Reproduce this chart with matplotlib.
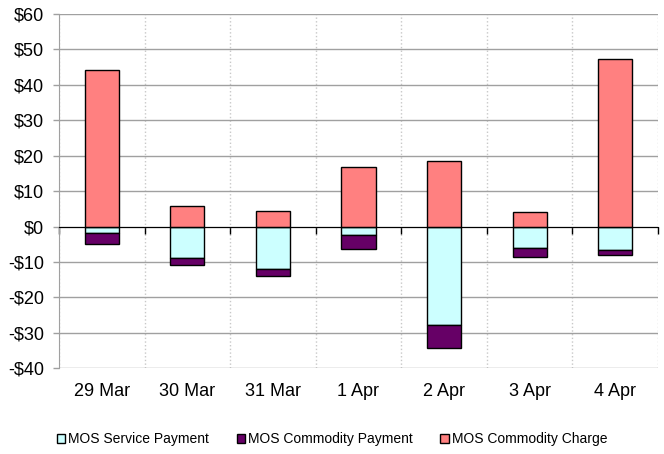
import matplotlib.pyplot as plt
import numpy as np

plt.rcParams['font.family'] = ['Liberation Sans', 'DejaVu Sans']

days = ['29 Mar', '30 Mar', '31 Mar', '1 Apr', '2 Apr', '3 Apr', '4 Apr']
service_payment = [-1.9, -8.8, -11.9, -2.3, -27.8, -6.0, -6.5]
commodity_payment = [-3.1, -2.1, -2.2, -4.0, -6.5, -2.6, -1.6]
commodity_charge = [44.1, 5.8, 4.3, 16.8, 18.6, 4.1, 47.4]

x = np.arange(len(days))
w = 0.4

fig = plt.figure(figsize=(6.64, 4.54), dpi=100)
ax = fig.add_axes([0.0889, 0.189, 0.902, 0.780])

ax.bar(x, service_payment, w, color='#CCFFFF', edgecolor='black', linewidth=1,
       label='MOS Service Payment', zorder=3)
ax.bar(x, commodity_payment, w, bottom=service_payment, color='#660066',
       edgecolor='black', linewidth=1, label='MOS Commodity Payment', zorder=3)
ax.bar(x, commodity_charge, w, color='#FF8080', edgecolor='black', linewidth=1,
       label='MOS Commodity Charge', zorder=3)

ax.set_xlim(-0.5, len(days) - 0.5)
ax.set_ylim(-40, 60)
ax.set_yticks(np.arange(-40, 61, 10))
ax.set_yticklabels([f'${v}' if v >= 0 else f'-${-v}' for v in range(-40, 61, 10)],
                   fontsize=13)
ax.tick_params(axis='y', color='#a0a0a0', length=4, width=1, pad=7)
ax.yaxis.grid(True, color='#a0a0a0', linewidth=1)

# category axis at zero with boundary ticks
ax.spines['bottom'].set_position(('data', 0))
ax.spines['bottom'].set_color('black')
ax.spines['bottom'].set_zorder(4)
ax.set_xticks(np.arange(-0.5, len(days), 1))
ax.set_xticklabels([])
ax.tick_params(axis='x', direction='out', length=5, color='black', width=1)
ax.xaxis.grid(True, color='#c8c8c8', linestyle=':', linewidth=1)
ax.set_axisbelow(True)

for s in ['top', 'right']:
    ax.spines[s].set_visible(False)
ax.spines['left'].set_color('#a0a0a0')

# day labels sit under the plot, not on the zero line
sec = ax.secondary_xaxis(0)
sec.set_xticks(x)
sec.set_xticklabels(days, fontsize=13)
sec.tick_params(length=0, pad=11)
sec.spines['bottom'].set_visible(False)

fig.legend(loc='center', bbox_to_anchor=(0.5, 0.033), ncol=3, frameon=False,
           fontsize=10, handlelength=0.6, handleheight=0.6, handletextpad=0.2,
           columnspacing=2.0)

fig.savefig('out.png', dpi=100)
